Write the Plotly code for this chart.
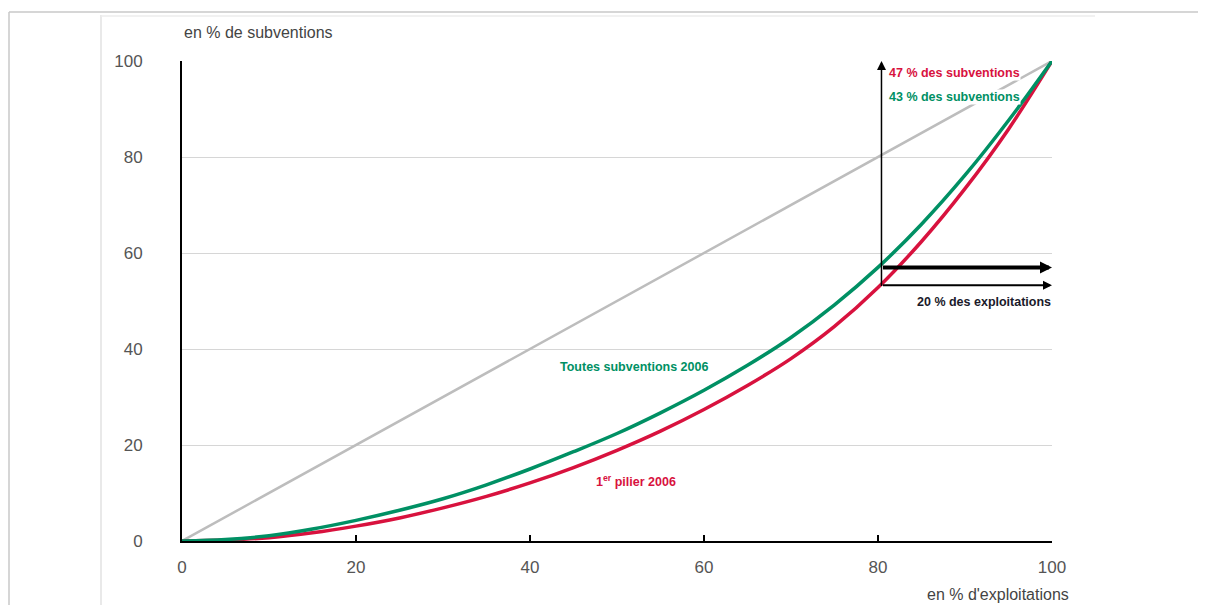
import plotly.graph_objects as go

# Lorenz curves: share of farms (x) vs share of subsidies (y)
pct_exploitations = [0, 5, 10, 15, 20, 25, 30, 35, 40, 45, 50, 55, 60, 65, 70, 75, 80, 85, 90, 95, 100]
toutes_subventions = [0, 0.3, 1.1, 2.5, 4.3, 6.4, 8.8, 11.7, 15.0, 18.6, 22.4, 26.7, 31.4, 36.6, 42.4, 49.2, 57.0, 66.0, 76.2, 87.6, 100]
premier_pilier = [0, 0.2, 0.7, 1.7, 3.1, 4.8, 6.9, 9.3, 12.1, 15.3, 18.9, 22.9, 27.4, 32.4, 38.0, 44.7, 52.8, 62.4, 73.4, 85.8, 100]
egalite = [0, 100]
tick_vals = [0, 20, 40, 60, 80, 100]

GREEN = "#009064"
RED = "#d8123e"
GRAY = "#bdbdbd"
NARROW = "Liberation Sans Narrow, Arial Narrow, Liberation Sans, sans-serif"

OFF = 8  # page body margin
W, H = 1206 - OFF, 605 - OFF
ML, MT = 182 - OFF, 61 - OFF
PW, PH = 870, 480
MR, MB = W - ML - PW, H - MT - PH


def px(x):
    return (x - OFF - ML) / PW


def py(y):
    return (MT + PH - (y - OFF)) / PH


fig = go.Figure()
fig.add_trace(go.Scatter(x=egalite, y=egalite, mode="lines",
                         line=dict(color=GRAY, width=2.5), hoverinfo="skip"))
fig.add_trace(go.Scatter(x=pct_exploitations, y=premier_pilier, mode="lines",
                         line=dict(color=RED, width=3.5, shape="spline")))
fig.add_trace(go.Scatter(x=pct_exploitations, y=toutes_subventions, mode="lines",
                         line=dict(color=GREEN, width=3.5, shape="spline")))

i80 = pct_exploitations.index(80)
g80 = toutes_subventions[i80]
r80 = premier_pilier[i80]

arrows = [
    dict(x=80.4, y=100, ax=80.4, ay=r80, arrowwidth=1.5, arrowsize=1.2),
    dict(x=100, y=g80, ax=80.4, ay=g80, arrowwidth=4, arrowsize=0.6),
    dict(x=100, y=r80 + 0.5, ax=80.4, ay=r80 + 0.5, arrowwidth=2, arrowsize=0.9),
]
for a in arrows:
    fig.add_annotation(text="", showarrow=True, axref="x", ayref="y",
                       arrowhead=2, arrowcolor="black", **a)

bold = dict(family=NARROW, size=12.5)
labels = [
    dict(x=81.1, y=97.5, text="<b>47 % des subventions</b>", color=RED, xanchor="left"),
    dict(x=81.1, y=92.5, text="<b>43 % des subventions</b>", color=GREEN, xanchor="left"),
    dict(x=100, y=49.8, text="<b>20 % des exploitations</b>", color="#1a1a2a", xanchor="right"),
    dict(x=52, y=36.2, text="<b>Toutes subventions 2006</b>", color=GREEN, xanchor="center"),
    dict(x=52.2, y=12.5, text="<b>1<sup>er</sup> pilier 2006</b>", color=RED, xanchor="center"),
]
for l in labels:
    fig.add_annotation(x=l["x"], y=l["y"], text=l["text"], showarrow=False,
                       xanchor=l["xanchor"], yanchor="middle", bgcolor="white",
                       borderpad=0, font=dict(color=l["color"], **bold))

fig.add_annotation(xref="paper", yref="paper", x=px(182), y=py(32), text="en % de subventions",
                   showarrow=False, xanchor="left", yanchor="middle",
                   font=dict(family=NARROW, size=16, color="#444"))
fig.add_annotation(xref="paper", yref="paper", x=px(1071), y=py(594), text="en % d'exploitations",
                   showarrow=False, xanchor="right", yanchor="middle",
                   font=dict(family=NARROW, size=16, color="#444"))

# page frame lines
frame = [
    (OFF + 1, 12, 1206, 12, "#c8c8c8", 1.5),
    (OFF + 1, 12, OFF + 1, 605, "#c8c8c8", 1.5),
    (101, 15, 101, 605, "#e2e2e2", 1.5),
    (101, 16, 1095, 16, "#ececec", 1.5),
]
for x0, y0, x1, y1, c, w in frame:
    fig.add_shape(type="line", xref="paper", yref="paper",
                  x0=px(x0), y0=py(y0), x1=px(x1), y1=py(y1),
                  line=dict(color=c, width=w))

fig.update_layout(
    width=W, height=H,
    margin=dict(l=ML, r=MR, t=MT, b=MB),
    paper_bgcolor="white", plot_bgcolor="white",
    showlegend=False,
    font=dict(family=NARROW, size=17, color="#555"),
)
fig.update_xaxes(range=[0, 100], tickvals=tick_vals, showgrid=False, zeroline=False,
                 showline=True, linecolor="black", linewidth=2,
                 ticks="inside", ticklen=6, tickcolor="black", tickwidth=1.5,
                 ticklabelstandoff=10)
fig.update_yaxes(range=[0, 100], tickvals=tick_vals, showgrid=True, gridcolor="#d6d6d6",
                 gridwidth=1, zeroline=False, showline=True, linecolor="black",
                 linewidth=2, ticks="", ticklabelstandoff=34)

fig.write_html("out.html")
